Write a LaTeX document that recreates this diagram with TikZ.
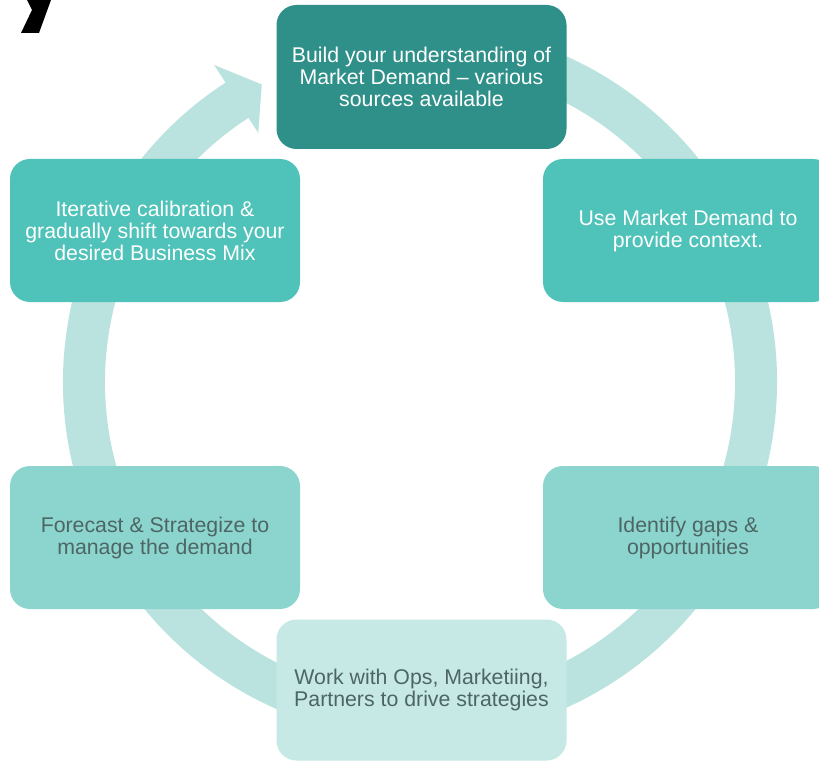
\documentclass[tikz,border=0pt]{standalone}
\usepackage{fontspec}
\setmainfont{Liberation Sans}
\definecolor{ringc}{HTML}{BAE3E0}
\definecolor{darkc}{HTML}{2E9089}
\definecolor{midc}{HTML}{4FC2B9}
\definecolor{lightc}{HTML}{8CD5CF}
\definecolor{palec}{HTML}{C6E9E6}
\definecolor{txtdark}{HTML}{4D6664}
\begin{document}
\begin{tikzpicture}[x=1pt,y=-1pt,
  box/.style={rounded corners=20pt, minimum width=290pt, minimum height=143pt,
    align=center, font=\fontsize{21.3}{22}\selectfont, inner sep=0pt},
  boxdark/.style={box, fill=darkc, text=white},
  boxmid/.style={box, fill=midc, text=white},
  boxlight/.style={box, fill=lightc, text=txtdark},
  boxpale/.style={box, fill=palec, text=txtdark}]
\clip (0,0) rectangle (819,762);
\fill[white] (0,0) rectangle (819,762);
% stray glyph fragment
\fill[black] (27,0) -- (32,10) -- (21,33) -- (39,33) -- (51,0) -- cycle;
% circular arrow ring
\begin{scope}[shift={(420,382)}, yscale=-1]
  \fill[ringc] (123:357) -- (123:378) -- (118:337) -- (123:297) -- (123:315)
    arc[start angle=123, end angle=440, radius=315]
    -- (440:357)
    arc[start angle=440, end angle=123, radius=357] -- cycle;
\end{scope}
% boxes
\node[boxdark, minimum height=144pt] (n1) at (421.5,77) {Build your understanding of\\Market Demand -- various\\sources available};
\node[boxmid] (n2) at (688,230.5) {Use Market Demand to\\provide context.};
\node[boxlight] (n3) at (688,537.5) {Identify gaps \&\\opportunities};
\node[boxpale, minimum height=141pt] (n4) at (421.5,690) {Work with Ops, Marketiing,\\Partners to drive strategies};
\node[boxlight] (n5) at (155,537.5) {Forecast \& Strategize to\\manage the demand};
\node[boxmid] (n6) at (155,230.5) {Iterative calibration \&\\gradually shift towards your\\desired Business Mix};
\end{tikzpicture}
\end{document}
